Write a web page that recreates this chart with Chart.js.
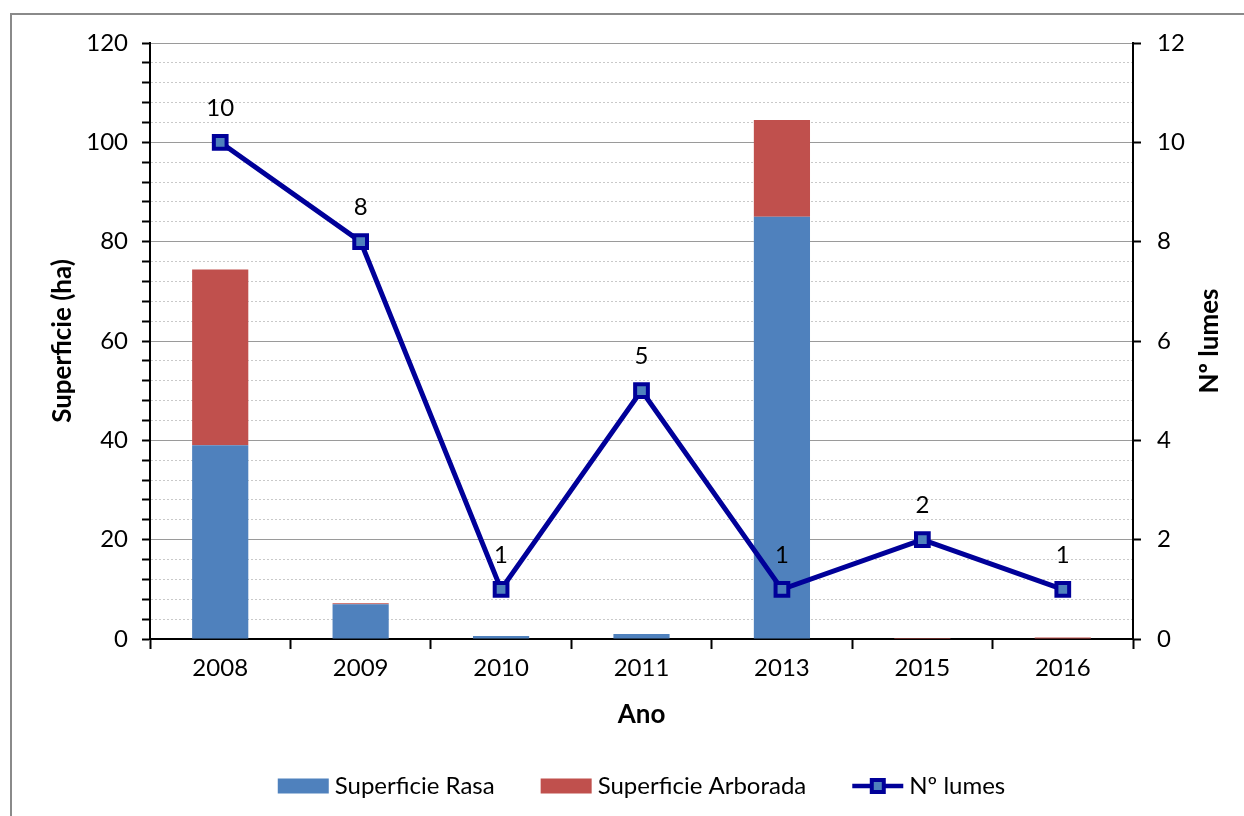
<!DOCTYPE html>
<html>
<head>
<meta charset="utf-8">
<title>Superficie e lumes</title>
<script src="https://cdn.jsdelivr.net/npm/chart.js"></script>
<style>
  html, body { margin: 0; padding: 0; background: #fff; }
  canvas { display: block; }
</style>
</head>
<body>
<canvas id="chart" width="1244" height="816"></canvas>
<script>
const anos = ['2008', '2009', '2010', '2011', '2013', '2015', '2016'];
const superficieRasa = [39, 7, 0.6, 1, 85, 0, 0];
const superficieArborada = [35.4, 0.2, 0, 0, 19.5, 0.2, 0.3];
const numLumes = [10, 8, 1, 5, 1, 2, 1];

const FONT = 'Lato';
const FS = 24;
const AZUL = '#4F81BD';
const VERMELLO = '#C0504D';
const NAVY = '#000099';

// marco gris arredor do gráfico
const framePlugin = {
    id: 'frame',
    beforeDraw(chart) {
        const c = chart.ctx;
        c.save();
        c.fillStyle = '#ffffff';
        c.fillRect(0, 0, chart.width, chart.height);
        c.strokeStyle = '#8a8a8a';
        c.lineWidth = 2;
        c.strokeRect(11, 14, chart.width + 20, chart.height + 20);
        c.restore();
    }
};

// etiquetas de valor sobre os puntos da liña + título do eixe dereito
const labelsPlugin = {
    id: 'valueLabels',
    afterDatasetsDraw(chart) {
        const c = chart.ctx;
        const meta = chart.getDatasetMeta(2);
        c.save();
        c.font = FS + 'px ' + FONT;
        c.fillStyle = '#000';
        c.textAlign = 'center';
        c.textBaseline = 'middle';
        meta.data.forEach((pt, i) => {
            c.fillText(String(chart.data.datasets[2].data[i]), pt.x, pt.y - 34);
        });
        c.restore();
    },
    afterDraw(chart) {
        const c = chart.ctx;
        const area = chart.chartArea;
        c.save();
        c.translate(1210, (area.top + area.bottom) / 2);
        c.rotate(-Math.PI / 2);
        c.font = 'bold 26px ' + FONT;
        c.fillStyle = '#000';
        c.textAlign = 'center';
        c.textBaseline = 'middle';
        c.fillText(chart.options.scales.y1.title.text, 0, 0);
        c.restore();
    }
};

function drawMarker(c, x, y) {
    c.fillStyle = AZUL;
    c.strokeStyle = NAVY;
    c.lineWidth = 4;
    c.beginPath();
    c.rect(x - 6, y - 6, 12, 12);
    c.fill();
    c.stroke();
}

// lenda debaixo do gráfico
const legendPlugin = {
    id: 'customLegend',
    afterDraw(chart) {
        const c = chart.ctx;
        const ds = chart.data.datasets;
        const boxW = 51, boxH = 15, gap = 6, sep = 46;
        const y = 786;
        c.save();
        c.font = FS + 'px ' + FONT;
        c.textBaseline = 'middle';
        const widths = ds.map(d => boxW + gap + c.measureText(d.label).width);
        const total = widths.reduce((a, b) => a + b, 0) + sep * (ds.length - 1);
        let x = (chart.chartArea.left + chart.chartArea.right) / 2 - total / 2;
        ds.forEach((d, i) => {
            if (d.type === 'line') {
                c.strokeStyle = NAVY;
                c.lineWidth = 4.5;
                c.beginPath();
                c.moveTo(x, y);
                c.lineTo(x + boxW, y);
                c.stroke();
                drawMarker(c, x + boxW / 2, y);
            } else {
                c.fillStyle = d.backgroundColor;
                c.fillRect(x, y - boxH / 2, boxW, boxH);
            }
            c.fillStyle = '#000';
            c.fillText(d.label, x + boxW + gap, y);
            x += widths[i] + sep;
        });
        c.restore();
    }
};

const ctx = document.getElementById('chart');

new Chart(ctx, {
    data: {
        labels: anos,
        datasets: [
            {
                type: 'bar',
                label: 'Superficie Rasa',
                data: superficieRasa,
                backgroundColor: AZUL,
                yAxisID: 'y',
                order: 1,
                barPercentage: 0.4,
                categoryPercentage: 1
            },
            {
                type: 'bar',
                label: 'Superficie Arborada',
                data: superficieArborada,
                backgroundColor: VERMELLO,
                yAxisID: 'y',
                order: 1,
                barPercentage: 0.4,
                categoryPercentage: 1
            },
            {
                type: 'line',
                label: 'Nº lumes',
                data: numLumes,
                yAxisID: 'y1',
                order: 0,
                borderColor: NAVY,
                borderWidth: 5,
                tension: 0,
                pointStyle: 'rect',
                pointRadius: 9,
                pointBorderWidth: 4,
                pointBackgroundColor: AZUL,
                pointBorderColor: NAVY
            }
        ]
    },
    options: {
        responsive: false,
        animation: false,
        devicePixelRatio: 1,
        layout: { padding: { top: 43, left: 0, right: 0, bottom: 0 } },
        plugins: {
            legend: { display: false },
            tooltip: { enabled: false }
        },
        scales: {
            x: {
                stacked: true,
                offset: true,
                afterFit: s => { s.height = 177; },
                grid: {
                    offset: true,
                    drawOnChartArea: false,
                    drawTicks: true,
                    tickLength: 10,
                    tickColor: '#000',
                    tickWidth: 2
                },
                border: { display: true, color: '#000', width: 2 },
                ticks: {
                    color: '#000',
                    font: { family: FONT, size: FS },
                    padding: 5,
                    maxRotation: 0
                },
                title: {
                    display: true,
                    text: 'Ano',
                    color: '#000',
                    font: { family: FONT, size: 26, weight: 'bold' },
                    padding: { top: 0, bottom: 86 }
                }
            },
            y: {
                position: 'left',
                stacked: true,
                min: 0,
                max: 120,
                afterFit: s => { s.width = 150; },
                grid: {
                    drawOnChartArea: true,
                    drawTicks: true,
                    tickLength: 8,
                    tickColor: '#000',
                    tickWidth: 2,
                    lineWidth: 1,
                    color: c => {
                        if (!c.tick || c.tick.value === 0) return 'rgba(0,0,0,0)';
                        return c.tick.value % 20 === 0 ? '#9a9a9a' : '#c9c9c9';
                    }
                },
                border: {
                    display: true,
                    color: '#000',
                    width: 2,
                    dash: c => (c.tick && c.tick.value % 20 !== 0) ? [2, 2] : []
                },
                ticks: {
                    stepSize: 4,
                    autoSkip: false,
                    color: '#000',
                    font: { family: FONT, size: FS },
                    padding: 14,
                    callback: v => (v % 20 === 0 ? v : '')
                },
                title: {
                    display: true,
                    text: 'Superficie (ha)',
                    color: '#000',
                    font: { family: FONT, size: 26, weight: 'bold' },
                    padding: { top: 47, bottom: 0 }
                }
            },
            y1: {
                position: 'right',
                min: 0,
                max: 12,
                afterFit: s => { s.width = 111; },
                grid: {
                    drawOnChartArea: false,
                    drawTicks: true,
                    tickLength: 8,
                    tickColor: '#000',
                    tickWidth: 2
                },
                border: { display: true, color: '#000', width: 2 },
                ticks: {
                    stepSize: 2,
                    color: '#000',
                    font: { family: FONT, size: FS },
                    padding: 16
                },
                title: { display: false, text: 'Nº lumes' }
            }
        }
    },
    plugins: [framePlugin, labelsPlugin, legendPlugin]
});
</script>
</body>
</html>
